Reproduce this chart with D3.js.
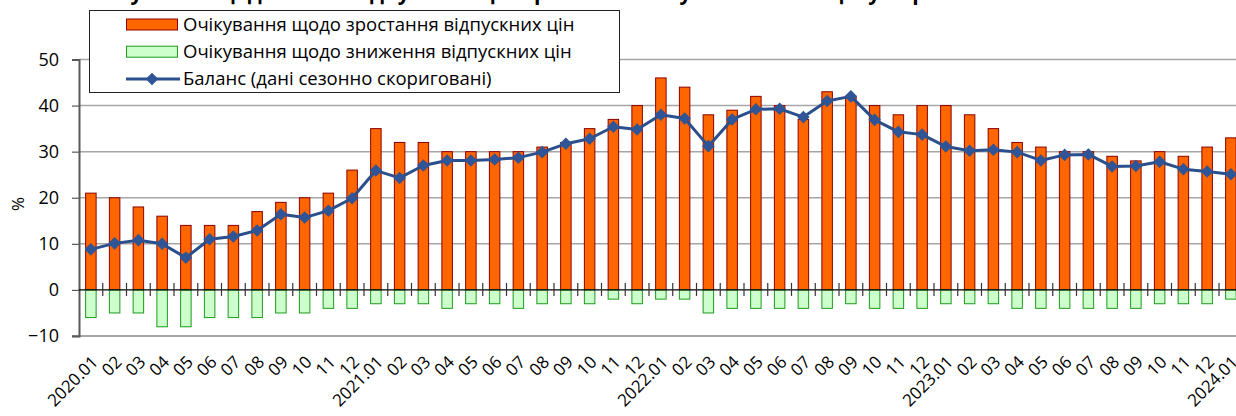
<!DOCTYPE html>
<html>
<head>
<meta charset="utf-8">
<script src="https://cdn.jsdelivr.net/npm/d3@7"></script>
<style>
  html, body { margin: 0; padding: 0; background: #fff; }
  svg { display: block; font-family: "Open Sans", "Noto Sans", sans-serif; }
</style>
</head>
<body>
<svg id="chart" width="1236" height="416"></svg>
<script>
const title = "Очікування щодо зміни відпускних цін протягом наступних 12 місяців у порівнянні з поточними";
const months = ["2020.01","02","03","04","05","06","07","08","09","10","11","12",
  "2021.01","02","03","04","05","06","07","08","09","10","11","12",
  "2022.01","02","03","04","05","06","07","08","09","10","11","12",
  "2023.01","02","03","04","05","06","07","08","09","10","11","12",
  "2024.01"];
const rise = [21,20,18,16,14,14,14,17,19,20,21,26,
  35,32,32,30,30,30,30,31,32,35,37,40,
  46,44,38,39,42,40,37,43,42,40,38,40,
  40,38,35,32,31,30,30,29,28,30,29,31,
  33];
const fall = [-6,-5,-5,-8,-8,-6,-6,-6,-5,-5,-4,-4,
  -3,-3,-3,-4,-3,-3,-4,-3,-3,-3,-2,-3,
  -2,-2,-5,-4,-4,-4,-4,-4,-3,-4,-4,-4,
  -3,-3,-3,-4,-4,-4,-4,-4,-4,-3,-3,-3,
  -2];
const balance = [8.8,10.1,10.8,10.0,7.0,11.0,11.6,12.9,16.4,15.7,17.2,19.9,
  25.9,24.3,27.0,28.1,28.1,28.3,28.7,29.9,31.7,32.8,35.4,34.8,
  38.0,37.2,31.2,37.0,39.2,39.3,37.5,41.0,42.0,36.9,34.3,33.7,
  31.1,30.2,30.4,29.9,28.1,29.3,29.4,26.8,26.9,27.8,26.2,25.7,
  25.1];
const yTicks = [-10, 0, 10, 20, 30, 40, 50];
const legendLabels = ["Очікування щодо зростання відпускних цін",
  "Очікування щодо зниження відпускних цін",
  "Баланс (дані сезонно скориговані)"];
const yLabel = "%";

const svg = d3.select("#chart");
const W = 1236;
const idx = d3.range(months.length);
const x = d3.scaleBand().domain(idx).range([79, 1242.75]).paddingInner(0).paddingOuter(0);
const y = d3.scaleLinear().domain([-10, 50]).range([336, 59.5]);
const barW = 10.5;
const cx = i => x(i) + x.bandwidth() / 2;

// title (its top lies above the visible area, as in the reference)
svg.append("text").attr("x", 618).attr("y", -0.5).attr("text-anchor", "middle")
  .style("font-weight", "bold").style("font-size", "21px").attr("fill", "#000").text(title);

// gridlines
svg.append("g").selectAll("line").data(yTicks.filter(d => d > 0)).join("line")
  .attr("x1", 79).attr("x2", W).attr("y1", d => y(d)).attr("y2", d => y(d))
  .attr("stroke", "#a6a6a6").attr("stroke-width", 1.5);
svg.append("line").attr("x1", 72).attr("x2", W).attr("y1", y(-10)).attr("y2", y(-10))
  .attr("stroke", "#a6a6a6").attr("stroke-width", 2);

// y axis
const yAxis = d3.axisLeft(y).tickValues(yTicks).tickSize(7).tickPadding(13).tickFormat(d3.format("d"));
const gy = svg.append("g").attr("transform", "translate(79,0)").call(yAxis);
gy.select(".domain").attr("stroke", "#595959").attr("stroke-width", 2);
gy.selectAll(".tick line").attr("stroke", "#595959").attr("stroke-width", 1.2);
gy.selectAll(".tick text").style("font-size", "18px").attr("fill", "#000")
  .style("font-family", "'Open Sans', sans-serif");

// y label
svg.append("text").attr("transform", "translate(24,204) rotate(-90)")
  .attr("text-anchor", "middle").style("font-size", "17px").attr("fill", "#000").text(yLabel);

// rise bars
svg.append("g").selectAll("rect").data(idx).join("rect")
  .attr("x", i => cx(i) - barW / 2).attr("width", barW)
  .attr("y", i => y(rise[i])).attr("height", i => y(0) - y(rise[i]))
  .attr("fill", "#ff6600").attr("stroke", "#8b0000").attr("stroke-width", 1);

// fall bars
svg.append("g").selectAll("rect").data(idx).join("rect")
  .attr("x", i => cx(i) - barW / 2).attr("width", barW)
  .attr("y", y(0)).attr("height", i => y(fall[i]) - y(0))
  .attr("fill", "#ccffcc").attr("stroke", "#1e9a1e").attr("stroke-width", 1);

// zero axis with cross ticks
const xAxis = d3.axisBottom(x).tickSize(0).tickFormat("");
const gx = svg.append("g").attr("transform", `translate(0,${y(0)})`).call(xAxis);
gx.select(".domain").attr("stroke", "#000").attr("stroke-width", 1.2).attr("d", `M79,0H${W}`);
gx.selectAll(".tick").remove();
svg.append("g").selectAll("line").data(idx.slice(1)).join("line")
  .attr("x1", i => x(i)).attr("x2", i => x(i))
  .attr("y1", y(0) - 7).attr("y2", y(0) + 6)
  .attr("stroke", "#333").attr("stroke-width", 1.2);

// x labels
svg.append("g").selectAll("text").data(idx).join("text")
  .attr("transform", i => `translate(${cx(i) + 4},${359}) rotate(-45)`)
  .attr("text-anchor", "end").attr("dy", "0.35em")
  .style("font-size", "17px").attr("fill", "#000")
  .text(i => months[i]);

// balance line
const line = d3.line().x(i => cx(i)).y(i => y(balance[i]));
svg.append("path").datum(idx).attr("d", line)
  .attr("fill", "none").attr("stroke", "#2b4f8c").attr("stroke-width", 3).attr("stroke-linejoin", "round");
svg.append("g").selectAll("path").data(idx).join("path")
  .attr("transform", i => `translate(${cx(i)},${y(balance[i])}) rotate(45)`)
  .attr("d", d3.symbol().type(d3.symbolSquare).size(62))
  .attr("fill", "#2f5597").attr("stroke", "#2f5597").attr("stroke-width", 1);

// legend
const lg = svg.append("g");
lg.append("rect").attr("x", 89.5).attr("y", 10.5).attr("width", 530).attr("height", 82)
  .attr("fill", "#fff").attr("stroke", "#222").attr("stroke-width", 1);
const rowY = [24.5, 51.7, 79];
lg.append("rect").attr("x", 126.5).attr("y", rowY[0] - 5.5).attr("width", 51).attr("height", 11)
  .attr("fill", "#ff6600").attr("stroke", "#8b0000");
lg.append("rect").attr("x", 126.5).attr("y", rowY[1] - 5.5).attr("width", 51).attr("height", 11)
  .attr("fill", "#ccffcc").attr("stroke", "#1e9a1e");
lg.append("line").attr("x1", 126).attr("x2", 180).attr("y1", rowY[2]).attr("y2", rowY[2])
  .attr("stroke", "#2b4f8c").attr("stroke-width", 3);
lg.append("path").attr("transform", `translate(152,${rowY[2]}) rotate(45)`)
  .attr("d", d3.symbol().type(d3.symbolSquare).size(62))
  .attr("fill", "#2f5597").attr("stroke", "#2f5597");
lg.selectAll("text.lt").data(legendLabels).join("text").attr("class", "lt")
  .attr("x", 183).attr("y", (d, i) => rowY[i]).attr("dy", "0.35em")
  .style("font-size", "18.5px").attr("fill", "#000").text(d => d);
</script>
</body>
</html>
